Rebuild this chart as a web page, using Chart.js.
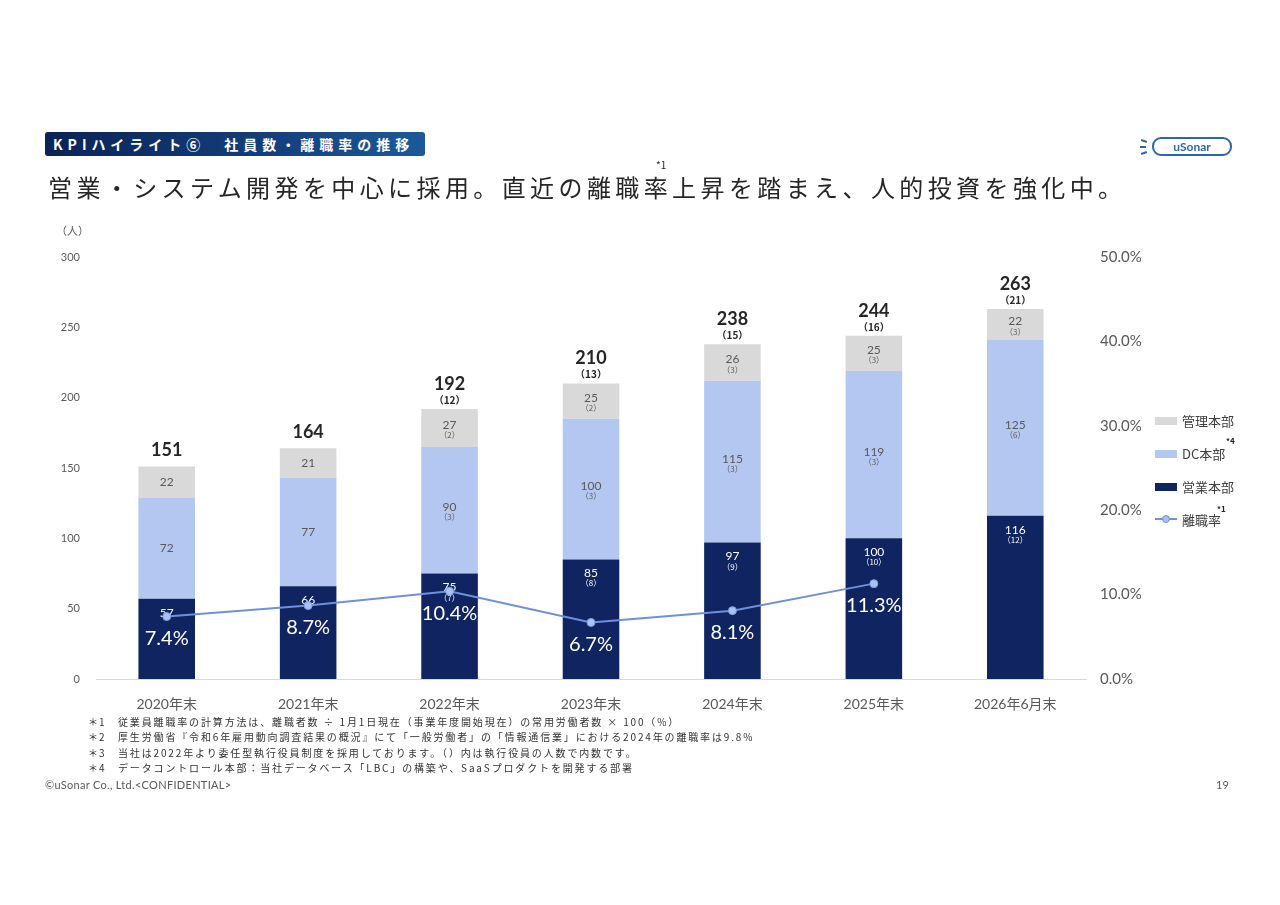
<!DOCTYPE html>
<html lang="ja">
<head>
<meta charset="utf-8">
<script src="https://cdn.jsdelivr.net/npm/chart.js@4.4.1/dist/chart.umd.min.js"></script>
<style>
  html, body { margin: 0; padding: 0; background: #fff; }
  #page { position: relative; width: 1280px; height: 905px; overflow: hidden; font-family: "Noto Sans CJK JP", sans-serif; color: #262626; }
  #myChart { position: absolute; left: 0; top: 0; }
  .abs { position: absolute; white-space: nowrap; }
  #badge { left: 45px; top: 132px; width: 380px; height: 24px; border-radius: 3px;
    background: linear-gradient(90deg, #0b2356 0%, #143f7c 60%, #1d5a9b 100%);
    color: #fff; font-weight: bold; font-size: 14px; line-height: 24px; padding-left: 8px; box-sizing: border-box; letter-spacing: 5px; }
  #title { left: 48px; top: 169px; font-size: 24px; letter-spacing: 4.4px; color: #262626; }
  .sup { font-size: 9px; color: #262626; }
  #unit { left: 56px; top: 222px; font-size: 11px; color: #595959; }
  .leg { font-size: 13px; color: #404040; }
  .legbox { position: absolute; width: 22px; height: 8px; }
  .notes { left: 88px; font-size: 10px; letter-spacing: 1.85px; color: #333; }
  .notes span { display: inline-block; width: 30px; letter-spacing: 1px; }
  #copy { left: 45px; top: 778px; font-family: Lato, sans-serif; font-size: 11px; letter-spacing: 0.3px; color: #595959; }
  #pageno { left: 1216px; top: 778px; font-family: Lato, sans-serif; font-size: 11px; color: #595959; }
  #logo { left: 1152px; top: 137px; width: 76px; height: 15px; border: 2px solid #2c66b3; border-radius: 9px;
    font-family: Lato, sans-serif; font-weight: bold; font-size: 12px; line-height: 15px; color: #2c66b3; text-align: center; }
  .ray { position: absolute; height: 2px; width: 6px; background: #2c66b3; }
</style>
</head>
<body>
<div id="page">
  <canvas id="myChart" width="1280" height="905"></canvas>

  <div id="badge" class="abs">KPIハイライト⑥　社員数・離職率の推移</div>
  <div id="logo" class="abs">uSonar</div>
  <div class="ray" style="left:1141px;top:140px;transform:rotate(20deg)"></div>
  <div class="ray" style="left:1140px;top:146px;"></div>
  <div class="ray" style="left:1141px;top:152px;transform:rotate(-20deg)"></div>

  <div id="title" class="abs">営業・システム開発を中心に採用。直近の離職率上昇を踏まえ、人的投資を強化中。</div>
  <div class="abs sup" style="left:656px;top:157px;font-size:10px;">*1</div>

  <div id="unit" class="abs">（人）</div>

  <!-- legend -->
  <div class="legbox" style="left:1155px;top:417px;background:#d9d9d9"></div>
  <div class="abs leg" style="left:1182px;top:411px;">管理本部</div>
  <div class="legbox" style="left:1155px;top:450px;background:#b4c7f0"></div>
  <div class="abs leg" style="left:1182px;top:444px;">DC本部</div>
  <div class="abs sup" style="left:1226px;top:435px;font-size:8px;font-weight:bold;">*4</div>
  <div class="legbox" style="left:1155px;top:483px;background:#0f2460"></div>
  <div class="abs leg" style="left:1182px;top:477px;">営業本部</div>
  <div class="abs" style="left:1155px;top:518px;width:22px;height:2px;background:#7090dc"></div>
  <div class="abs" style="left:1162px;top:515px;width:6px;height:6px;border-radius:50%;background:#a9c1f3;border:1px solid #7090dc"></div>
  <div class="abs leg" style="left:1182px;top:510px;">離職率</div>
  <div class="abs sup" style="left:1217px;top:503px;font-size:8px;font-weight:bold;">*1</div>

  <!-- footnotes -->
  <div class="abs notes" style="top:714px;"><span>＊1</span>従業員離職率の計算方法は、離職者数 ÷ 1月1日現在（事業年度開始現在）の常用労働者数 × 100（%）</div>
  <div class="abs notes" style="top:729px;"><span>＊2</span>厚生労働省『令和6年雇用動向調査結果の概況』にて「一般労働者」の「情報通信業」における2024年の離職率は9.8%</div>
  <div class="abs notes" style="top:745px;"><span>＊3</span>当社は2022年より委任型執行役員制度を採用しております。（）内は執行役員の人数で内数です。</div>
  <div class="abs notes" style="top:760px;"><span>＊4</span>データコントロール本部：当社データベース「LBC」の構築や、SaaSプロダクトを開発する部署</div>

  <div id="copy" class="abs">©uSonar Co., Ltd.&lt;CONFIDENTIAL&gt;</div>
  <div id="pageno" class="abs">19</div>
</div>

<script>
const categories = ['2020年末', '2021年末', '2022年末', '2023年末', '2024年末', '2025年末', '2026年6月末'];
const salesHeadcount = [57, 66, 75, 85, 97, 100, 116];
const dcHeadcount = [72, 77, 90, 100, 115, 119, 125];
const adminHeadcount = [22, 21, 27, 25, 26, 25, 22];
// executive officers (included in the counts above)
const salesOfficers = [null, null, 7, 8, 9, 10, 12];
const dcOfficers = [null, null, 3, 3, 3, 3, 6];
const adminOfficers = [null, null, 2, 2, 3, 3, 3];
const turnoverRate = [7.4, 8.7, 10.4, 6.7, 8.1, 11.3, null];

const numFont = 'Lato, "Noto Sans CJK JP", sans-serif';
const ctx = document.getElementById('myChart').getContext('2d');

function officerTotal(i) {
  const list = [salesOfficers[i], dcOfficers[i], adminOfficers[i]];
  if (list.every(v => v === null)) return null;
  return list.reduce((a, b) => a + (b || 0), 0);
}

// segment labels, drawn right after each bar dataset so the line sits on top
const segmentLabels = {
  id: 'segmentLabels',
  afterDatasetDraw(chart, args) {
    const ds = chart.data.datasets[args.index];
    if (ds.type === 'line') return;
    const c = chart.ctx;
    c.save();
    c.textAlign = 'center';
    c.textBaseline = 'middle';
    c.fillStyle = ds.labelColor;
    args.meta.data.forEach((bar, i) => {
      const p = bar.getProps(['x', 'y', 'base'], true);
      const off = ds.officers[i];
      let yNum = ds.labelPos === 'top' ? p.y + 14 : (p.y + p.base) / 2;
      if (off !== null && ds.labelPos !== 'top') yNum -= 3;
      c.font = '12px ' + numFont;
      c.fillText(ds.data[i], p.x, yNum);
      if (off !== null) {
        c.font = '8px "Noto Sans CJK JP", sans-serif';
        c.fillText('（' + off + '）', p.x, yNum + 10);
      }
    });
    c.restore();
  },
  afterDatasetsDraw(chart) {
    const c = chart.ctx;
    const topMeta = chart.getDatasetMeta(3);
    const lineMeta = chart.getDatasetMeta(0);
    c.save();
    c.textAlign = 'center';
    c.textBaseline = 'middle';
    topMeta.data.forEach((bar, i) => {
      const p = bar.getProps(['x', 'y'], true);
      const total = salesHeadcount[i] + dcHeadcount[i] + adminHeadcount[i];
      const off = officerTotal(i);
      c.fillStyle = '#262626';
      c.font = 'bold 18px ' + numFont;
      c.fillText(total, p.x, off !== null ? p.y - 25 : p.y - 16);
      if (off !== null) {
        c.font = 'bold 10px "Noto Sans CJK JP", sans-serif';
        c.fillText('（' + off + '）', p.x, p.y - 9);
      }
    });
    c.fillStyle = '#ffffff';
    c.font = '20px ' + numFont;
    lineMeta.data.forEach((pt, i) => {
      if (turnoverRate[i] === null) return;
      c.fillText(turnoverRate[i].toFixed(1) + '%', pt.x, pt.y + 22);
    });
    c.restore();
  }
};

new Chart(ctx, {
  type: 'bar',
  data: {
    labels: categories,
    datasets: [
      {
        type: 'line',
        label: '離職率',
        data: turnoverRate,
        yAxisID: 'y1',
        order: 0,
        borderColor: '#7090dc',
        borderWidth: 2,
        pointRadius: 4,
        pointBackgroundColor: '#a9c1f3',
        pointBorderColor: '#7f9be0',
        pointBorderWidth: 1,
        tension: 0,
        spanGaps: false
      },
      {
        label: '営業本部',
        data: salesHeadcount,
        officers: salesOfficers,
        labelColor: '#ffffff',
        labelPos: 'top',
        backgroundColor: '#0f2460',
        stack: 'hc',
        order: 1
      },
      {
        label: 'DC本部',
        data: dcHeadcount,
        officers: dcOfficers,
        labelColor: '#595959',
        labelPos: 'middle',
        backgroundColor: '#b4c7f0',
        stack: 'hc',
        order: 1
      },
      {
        label: '管理本部',
        data: adminHeadcount,
        officers: adminOfficers,
        labelColor: '#595959',
        labelPos: 'middle',
        backgroundColor: '#d9d9d9',
        stack: 'hc',
        order: 1
      }
    ]
  },
  options: {
    responsive: false,
    animation: false,
    barPercentage: 0.4,
    categoryPercentage: 1.0,
    layout: { padding: { left: 40, right: 130, top: 257, bottom: 176 } },
    plugins: { legend: { display: false }, tooltip: { enabled: false } },
    scales: {
      x: {
        stacked: true,
        grid: { display: true, color: 'transparent', drawTicks: false },
        border: { display: true, color: '#d9d9d9', width: 1 },
        ticks: { color: '#595959', font: { size: 14, family: numFont }, padding: 17 },
        afterFit(s) { s.height = 50; }
      },
      y: {
        stacked: true,
        min: 0,
        max: 300,
        position: 'left',
        grid: { display: false },
        border: { display: false },
        ticks: { stepSize: 50, color: '#595959', font: { size: 11, family: numFont }, padding: 8 },
        afterFit(s) { s.width = 56; }
      },
      y1: {
        min: 0,
        max: 50,
        position: 'right',
        grid: { display: false },
        border: { display: false },
        ticks: {
          stepSize: 10,
          color: '#595959',
          font: { size: 15, family: numFont },
          padding: 6,
          callback: v => v.toFixed(1) + '%'
        },
        afterFit(s) { s.width = 64; }
      }
    }
  },
  plugins: [segmentLabels]
});
</script>
</body>
</html>
